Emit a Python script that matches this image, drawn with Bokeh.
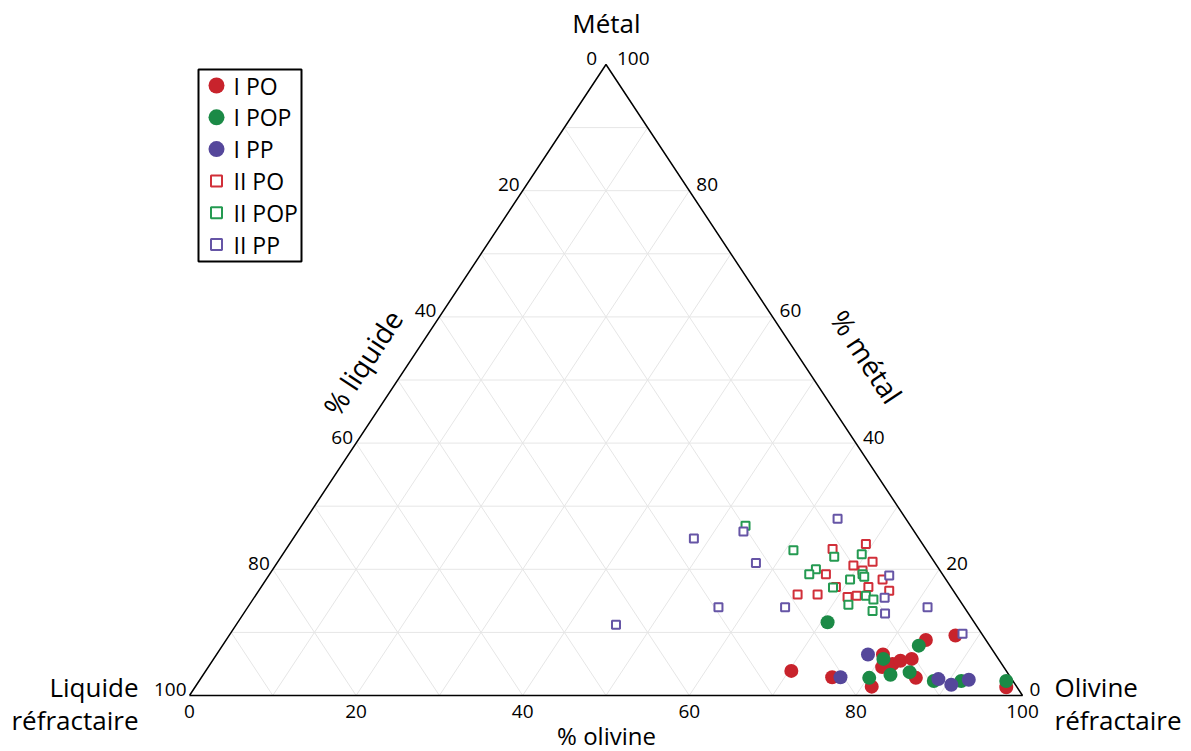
import numpy as np
from bokeh.plotting import figure
from bokeh.models import Range1d, Label
from bokeh.embed import file_html
from bokeh.resources import INLINE

# ---------------- data : (% olivine, % metal) ; % liquide = 100 - olivine - metal
i_po_olivine = [70.3, 75.7, 81.2, 80.0, 80.9, 81.9, 82.6, 83.8, 85.8, 84.0, 87.2, 97.4]
i_po_metal = [3.9, 2.9, 1.4, 6.5, 4.5, 5.0, 5.5, 5.8, 2.8, 8.8, 9.5, 1.3]

i_pop_olivine = [70.8, 80.2, 80.4, 82.5, 84.6, 83.6, 88.2, 91.5, 96.9]
i_pop_metal = [11.6, 2.8, 5.8, 3.3, 3.7, 7.9, 2.3, 2.3, 2.3]

i_pp_olivine = [76.7, 78.2, 88.6, 90.6, 92.3]
i_pp_metal = [2.9, 6.5, 2.6, 1.7, 2.5]

ii_po_olivine = [65.6, 69.2, 71.4, 69.4, 70.9, 66.8, 74.0, 72.9, 69.0, 75.7, 65.0, 67.4, 71.2, 72.2]
ii_po_metal = [23.2, 24.0, 21.2, 20.6, 19.8, 19.2, 18.4, 17.2, 17.2, 16.6, 16.0, 16.0, 15.6, 15.8]

ii_pop_olivine = [53.3, 61.0, 66.4, 69.5, 65.2, 64.8, 70.1, 71.2, 71.6, 68.7, 73.3, 74.5, 71.9, 75.3]
ii_pop_metal = [26.9, 23.0, 22.0, 22.4, 20.0, 19.2, 18.4, 19.2, 18.8, 17.1, 15.8, 15.2, 14.4, 13.4]

ii_pp_olivine = [45.6, 48.1, 53.5, 57.5, 56.5, 64.5, 63.8, 74.5, 75.7, 77.0, 81.6, 87.9]
ii_pp_metal = [11.2, 24.9, 26.0, 21.0, 14.0, 14.0, 28.0, 19.0, 15.5, 13.0, 14.0, 9.8]

series_names = ["I PO", "I POP", "I PP", "II PO", "II POP", "II PP"]
tick_values = [0, 20, 40, 60, 80, 100]

# ---------------- styling
RED, GREEN, PURPLE = "#c8232c", "#1b8a46", "#55479b"
RED_SQ, GREEN_SQ, PURPLE_SQ = "#d12f39", "#249a51", "#6655a6"
FONT = "Open Sans"

W, H = 1191, 751
ORIGIN = 0
# layout: picture pixel positions of triangle corners
LX, RX, BY, TY = 189.0, 1022.0, 695.0, 64.0
KX = 100.0 / (RX - LX)
KY = 100.0 / (BY - TY)


def tern(olivine, metal):
    o = np.asarray(olivine, dtype=float)
    m = np.asarray(metal, dtype=float)
    return o + m / 2.0, m


def scr(sx, sy):
    return (sx - LX) * KX, (BY - sy) * KY


def off(x, y, dx, dy):
    return x + dx * KX, y - dy * KY


x0, y1 = scr(ORIGIN, ORIGIN)
x1, y0 = scr(ORIGIN + W, ORIGIN + H)

p = figure(width=W, height=H, output_backend="svg", toolbar_location=None,
           x_range=Range1d(x0, x1), y_range=Range1d(y0, y1),
           min_border=0, min_border_left=0, min_border_right=0,
           min_border_top=0, min_border_bottom=0)
p.axis.visible = False
p.grid.visible = False
p.outline_line_color = None
p.background_fill_color = "white"
p.border_fill_color = "white"

# ---------------- grid (every 10 %)
gx0, gy0, gx1, gy1 = [], [], [], []
for k in range(10, 100, 10):
    for a, b in [(tern(100 - k, k), tern(0, k)),
                 (tern(k, 0), tern(k, 100 - k)),
                 (tern(100 - k, 0), tern(0, 100 - k))]:
        gx0.append(float(a[0])); gy0.append(float(a[1]))
        gx1.append(float(b[0])); gy1.append(float(b[1]))
p.segment(gx0, gy0, gx1, gy1, line_color="#e6e6e6", line_width=1)

# triangle outline
tx, ty = tern([0, 100, 0, 0], [0, 0, 100, 0])
p.line(list(tx), list(ty), line_color="black", line_width=1.5)

# ---------------- data points
CIRC = 14
SQ = 8
for ol, me, col in [(i_po_olivine, i_po_metal, RED),
                    (i_pop_olivine, i_pop_metal, GREEN),
                    (i_pp_olivine, i_pp_metal, PURPLE)]:
    x, y = tern(ol, me)
    p.scatter(list(x), list(y), marker="circle", size=CIRC, fill_color=col, line_color=None)
for ol, me, col in [(ii_po_olivine, ii_po_metal, RED_SQ),
                    (ii_pop_olivine, ii_pop_metal, GREEN_SQ),
                    (ii_pp_olivine, ii_pp_metal, PURPLE_SQ)]:
    x, y = tern(ol, me)
    p.scatter(list(x), list(y), marker="square", size=SQ, fill_color="white",
              line_color=col, line_width=2)


def label(x, y, text, size, align="center", baseline="middle", angle=0.0):
    p.add_layout(Label(x=x, y=y, text=text, text_font=FONT, text_font_size=f"{size}px",
                       text_align=align, text_baseline=baseline, text_color="black",
                       angle=angle))


TICK = 19
# bottom axis (% olivine)
for t in tick_values:
    x, y = tern(t, 0)
    label(*off(float(x), float(y), 0, 16), str(t), TICK)
# left axis (% liquide): liquide = t  -> metal = 100 - t, olivine 0
for t in tick_values:
    x, y = tern(0, 100 - t)
    dx = -9 if t == 0 else -3
    label(*off(float(x), float(y), dx, -6), str(t), TICK, align="right")
# right axis (% métal)
for t in tick_values:
    x, y = tern(100 - t, t)
    dx = 11 if t == 100 else 7
    label(*off(float(x), float(y), dx, -6), str(t), TICK, align="left")

# titles
label(*scr(606, 22), "Métal", 26)
label(*scr(606, 735), "% olivine", 24)
ang = np.arctan2(BY - TY, (RX - LX) / 2.0)
label(*scr(362, 362), "% liquide", 28, angle=float(ang))
label(*scr(866, 356), "% métal", 28, angle=-float(ang))
label(*scr(138, 686), "Liquide", 26, align="right")
label(*scr(138, 719), "réfractaire", 26, align="right")
label(*scr(1054, 686), "Olivine", 26, align="left")
label(*scr(1054, 719), "réfractaire", 26, align="left")

# ---------------- legend
bl, bt = scr(198, 69)
br, bb = scr(301, 261)
p.quad(left=[bl], right=[br], top=[bt], bottom=[bb], fill_color="white",
       line_color="black", line_width=2)
leg_styles = [("circle", RED, None), ("circle", GREEN, None), ("circle", PURPLE, None),
              ("square", None, RED_SQ), ("square", None, GREEN_SQ), ("square", None, PURPLE_SQ)]
for i, (name, (mk, fc, lc)) in enumerate(zip(series_names, leg_styles)):
    sy = 85 + 31.8 * i
    mx, my = scr(216, sy)
    if mk == "circle":
        p.scatter([mx], [my], marker="circle", size=16, fill_color=fc, line_color=None)
    else:
        p.scatter([mx], [my], marker="square", size=11, fill_color="white",
                  line_color=lc, line_width=2)
    label(*scr(233, sy), name, 23, align="left")

open("out.html", "w").write(file_html(p, INLINE))
